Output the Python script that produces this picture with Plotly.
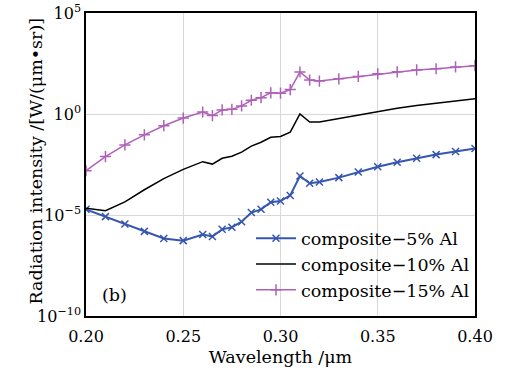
import plotly.graph_objects as go

wavelength = [0.20, 0.21, 0.22, 0.23, 0.24, 0.25, 0.26, 0.265, 0.27, 0.275, 0.28, 0.285,
              0.29, 0.295, 0.30, 0.305, 0.31, 0.315, 0.32, 0.33, 0.34, 0.35, 0.36, 0.37,
              0.38, 0.39, 0.40]
# log10 of radiation intensity
exp_5 = [-4.72, -5.08, -5.45, -5.81, -6.16, -6.27, -5.97, -6.06, -5.71, -5.61, -5.33, -4.88,
         -4.72, -4.37, -4.31, -4.03, -3.07, -3.43, -3.37, -3.15, -2.87, -2.61, -2.39, -2.19,
         -2.01, -1.86, -1.71]
exp_10 = [-4.67, -4.79, -4.35, -3.75, -3.2, -2.74, -2.36, -2.48, -2.19, -2.09, -1.89, -1.59,
          -1.40, -1.15, -1.11, -0.90, 0.0, -0.40, -0.40, -0.23, -0.05, 0.13, 0.28, 0.42,
          0.53, 0.63, 0.75]
exp_15 = [-2.81, -2.11, -1.53, -1.03, -0.58, -0.20, 0.10, -0.08, 0.20, 0.23, 0.40, 0.68,
          0.81, 1.05, 1.03, 1.21, 2.08, 1.68, 1.63, 1.74, 1.86, 1.99, 2.09, 2.18,
          2.24, 2.33, 2.39]
names = ["composite\u22125% Al", "composite\u221210% Al", "composite\u221215% Al"]
x_ticks = [0.20, 0.25, 0.30, 0.35, 0.40]
x_ticktext = ["0.20", "0.25", "0.30", "0.35", "0.40"]
y_ticks = [1e-10, 1e-5, 1e0, 1e5]
y_ticktext = ["10<sup>\u221210</sup>", "10<sup>\u22125</sup>", "10<sup>0</sup>", "10<sup>5</sup>"]

FONT = "DejaVu Serif"
blue = "#3656b0"
purple = "#b060b8"

def vals(e):
    return [10 ** v for v in e]

fig = go.Figure()
fig.add_trace(go.Scatter(x=wavelength, y=vals(exp_5), name=names[0], mode="lines+markers",
                         line=dict(color=blue, width=2),
                         marker=dict(symbol="x-thin-open", size=7, color=blue,
                                     line=dict(color=blue, width=1.5))))
fig.add_trace(go.Scatter(x=wavelength, y=vals(exp_10), name=names[1], mode="lines",
                         line=dict(color="black", width=1.5)))
fig.add_trace(go.Scatter(x=wavelength, y=vals(exp_15), name=names[2], mode="lines+markers",
                         line=dict(color=purple, width=1.5),
                         marker=dict(symbol="cross-thin-open", size=8, color=purple,
                                     line=dict(color=purple, width=1.5))))

L, R, T, B = 86, 31, 13, 55
plot_w = 506 - L - R
plot_h = 371 - T - B

fig.update_layout(
    width=506, height=371,
    margin=dict(l=L, r=R, t=T, b=B, autoexpand=False),
    paper_bgcolor="white", plot_bgcolor="white",
    font=dict(family=FONT, size=17, color="black"),
    showlegend=True,
    legend=dict(x=1.0, y=0.025, xanchor="right", yanchor="bottom",
                bgcolor="rgba(255,255,255,0)", borderwidth=0,
                font=dict(family=FONT, size=17.5), tracegroupgap=0, itemwidth=40),
    xaxis=dict(range=[0.2, 0.4], tickvals=x_ticks, ticktext=x_ticktext,
               showgrid=True, gridcolor="#d8d8d8", gridwidth=1,
               showline=True, linecolor="black", linewidth=1.5, mirror=True,
               ticks="", zeroline=False, automargin=False, ticklabelstandoff=5,
               tickfont=dict(family=FONT, size=16),
               title=dict(text="Wavelength /\u03bcm", standoff=6,
                          font=dict(family=FONT, size=17.5))),
    yaxis=dict(type="log", range=[-10, 5], tickvals=y_ticks, ticktext=y_ticktext,
               showgrid=True, gridcolor="#d8d8d8", gridwidth=1,
               showline=True, linecolor="black", linewidth=1.5, mirror=True,
               ticks="", zeroline=False, automargin=False,
               tickfont=dict(family=FONT, size=16)),
    annotations=[
        dict(text="Radiation intensity /[W/(\u03bcm\u2022sr)]",
             x=(23 - L) / plot_w, y=(371 - B - 161.5) / plot_h,
             xref="paper", yref="paper", showarrow=False, textangle=-90,
             font=dict(family=FONT, size=17.5)),
        dict(text="(b)", x=0.035, y=0.03, xref="paper", yref="paper", showarrow=False,
             xanchor="left", yanchor="bottom", font=dict(family=FONT, size=17.5)),
    ],
)

fig.write_html("out.html")
